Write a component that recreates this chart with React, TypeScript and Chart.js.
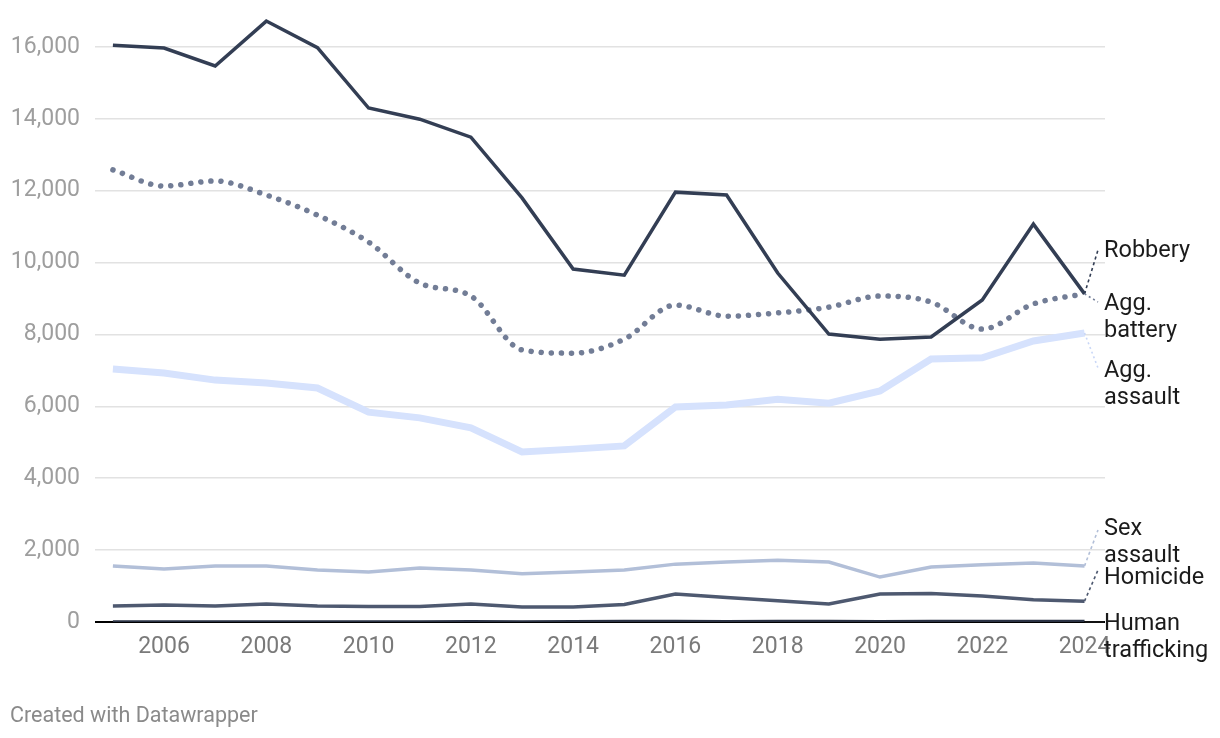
import React, { useEffect, useRef } from "react";
import { Chart, registerables } from "chart.js";

Chart.register(...registerables);

const years = [2005, 2006, 2007, 2008, 2009, 2010, 2011, 2012, 2013, 2014, 2015, 2016, 2017, 2018, 2019, 2020, 2021, 2022, 2023, 2024];
const robbery = [16050, 15970, 15470, 16720, 15980, 14300, 13990, 13490, 11800, 9820, 9650, 11960, 11880, 9710, 8010, 7870, 7930, 8960, 11070, 9130];
const aggBattery = [12580, 12130, 12270, 11880, 11320, 10570, 9430, 9070, 7570, 7480, 7870, 8820, 8510, 8600, 8760, 9070, 8900, 8150, 8850, 9130];
const aggAssault = [7040, 6930, 6730, 6650, 6510, 5840, 5680, 5400, 4730, 4810, 4900, 5980, 6040, 6200, 6090, 6430, 7320, 7350, 7820, 8040];
const sexAssault = [1560, 1475, 1560, 1560, 1450, 1390, 1500, 1450, 1340, 1390, 1450, 1610, 1670, 1720, 1670, 1250, 1530, 1590, 1640, 1560];
const homicide = [445, 470, 445, 500, 445, 430, 430, 500, 420, 415, 490, 780, 680, 590, 500, 780, 790, 720, 620, 580];
const humanTrafficking = [5, 8, 6, 7, 10, 8, 9, 12, 10, 14, 18, 20, 16, 22, 18, 15, 20, 24, 18, 20];

const yTicks = [0, 2000, 4000, 6000, 8000, 10000, 12000, 14000, 16000];
const xTicks = [2006, 2008, 2010, 2012, 2014, 2016, 2018, 2020, 2022, 2024];

const labelRobbery = ["Robbery"];
const labelBattery = ["Agg.", "battery"];
const labelAssault = ["Agg.", "assault"];
const labelSex = ["Sex", "assault"];
const labelHomicide = ["Homicide"];
const labelTrafficking = ["Human", "trafficking"];

const FONT = "Roboto, 'Noto Sans', sans-serif";

const toPts = (vals: number[]) => vals.map((v, i) => ({ x: years[i], y: v }));

export default function App() {
  const ref = useRef<HTMLCanvasElement | null>(null);

  useEffect(() => {
    const canvas = ref.current;
    if (!canvas) return;

    const annotations = [
      { values: robbery, lines: labelRobbery, color: "#333e54", dash: [3, 3], end: [1098, 250], text: [1104, 257], solid: false },
      { values: aggBattery, lines: labelBattery, color: "#727d96", dash: [2, 3], end: [1098, 302], text: [1104, 310], solid: false },
      { values: aggAssault, lines: labelAssault, color: "#c9d7f7", dash: [2, 3], end: [1098, 368], text: [1104, 377], solid: false },
      { values: sexAssault, lines: labelSex, color: "#b2bfd8", dash: [3, 3], end: [1098, 530], text: [1104, 535], solid: false },
      { values: homicide, lines: labelHomicide, color: "#4e5970", dash: [3, 3], end: [1098, 570], text: [1104, 584], solid: false },
      { values: humanTrafficking, lines: labelTrafficking, color: "#111111", dash: [], end: [1104, 622], text: [1104, 630], solid: true },
    ];

    const labelPlugin = {
      id: "endLabels",
      afterDatasetsDraw(chart: any) {
        const { ctx, scales } = chart;
        const xs = scales.x;
        const ys = scales.y;
        ctx.save();
        annotations.forEach((a) => {
          const last = a.values.length - 1;
          const px = xs.getPixelForValue(years[last]);
          const py = ys.getPixelForValue(a.values[last]);
          ctx.beginPath();
          ctx.setLineDash(a.dash);
          ctx.strokeStyle = a.color;
          ctx.lineWidth = a.solid ? 2 : 1.6;
          ctx.moveTo(px, a.solid ? a.end[1] : py);
          ctx.lineTo(a.end[0], a.end[1]);
          ctx.stroke();
          ctx.setLineDash([]);
          ctx.fillStyle = "#1b1b1b";
          ctx.font = `23.5px ${FONT}`;
          ctx.textAlign = "left";
          ctx.textBaseline = "alphabetic";
          a.lines.forEach((ln, i) => {
            ctx.fillText(ln, a.text[0], a.text[1] + i * 27);
          });
        });
        ctx.fillStyle = "#8a8a8a";
        ctx.font = `21.5px ${FONT}`;
        ctx.textAlign = "left";
        ctx.fillText("Created with Datawrapper", 10, 722);
        ctx.restore();
      },
    };

    const chart = new Chart(canvas, {
      type: "line",
      data: {
        datasets: [
          {
            label: "Robbery",
            data: toPts(robbery),
            borderColor: "#333e54",
            borderWidth: 3.5,
            pointRadius: 0,
            borderJoinStyle: "miter",
          },
          {
            label: "Agg. battery",
            data: toPts(aggBattery),
            borderColor: "#727d96",
            borderWidth: 5.5,
            borderDash: [0.1, 10],
            borderCapStyle: "round",
            cubicInterpolationMode: "monotone",
            pointRadius: 0,
          },
          {
            label: "Human trafficking",
            data: toPts(humanTrafficking),
            borderColor: "#2a3244",
            borderWidth: 3,
            pointRadius: 0,
          },
          {
            label: "Homicide",
            data: toPts(homicide),
            borderColor: "#4e5970",
            borderWidth: 3.5,
            pointRadius: 0,
          },
          {
            label: "Sex assault",
            data: toPts(sexAssault),
            borderColor: "#b2bfd8",
            borderWidth: 3.5,
            pointRadius: 0,
          },
          {
            label: "Agg. assault",
            data: toPts(aggAssault),
            borderColor: "#d6e2fd",
            borderWidth: 7,
            pointRadius: 0,
          },
        ],
      },
      options: {
        animation: false,
        responsive: false,
        maintainAspectRatio: false,
        layout: { padding: { top: 11, right: 115, bottom: 66, left: 0 } },
        plugins: {
          legend: { display: false },
          tooltip: { enabled: false },
        },
        scales: {
          x: {
            type: "linear",
            min: 2004.65,
            max: 2024.4,
            afterBuildTicks: (scale: any) => {
              scale.ticks = xTicks.map((v) => ({ value: v }));
            },
            afterFit: (scale: any) => {
              scale.height = 50;
              scale.paddingLeft = 0;
              scale.paddingRight = 0;
            },
            grid: { display: false, drawTicks: false },
            border: { display: false },
            ticks: {
              color: "#7a7a7a",
              font: { family: FONT, size: 23 },
              padding: 11,
              maxRotation: 0,
              autoSkip: false,
              callback: (v: any) => String(v),
            },
          },
          y: {
            type: "linear",
            min: 0,
            max: 17000,
            afterBuildTicks: (scale: any) => {
              scale.ticks = yTicks.map((v) => ({ value: v }));
            },
            afterFit: (scale: any) => {
              scale.width = 95;
              scale.paddingTop = 0;
              scale.paddingBottom = 0;
            },
            grid: {
              drawTicks: false,
              color: (c: any) => (c.tick && c.tick.value === 0 ? "#000000" : "#e2e2e2"),
              lineWidth: (c: any) => (c.tick && c.tick.value === 0 ? 2 : 1.5),
            },
            border: { display: false },
            ticks: {
              color: "#9e9e9e",
              font: { family: FONT, size: 23 },
              padding: 15,
              callback: (v: any) => Number(v).toLocaleString("en-US"),
            },
          },
        },
      },
      plugins: [labelPlugin],
    } as any);

    return () => chart.destroy();
  }, []);

  return (
    <div style={{ position: "absolute", left: 0, top: 0, width: 1220, height: 738, background: "#fff" }}>
      <canvas ref={ref} width={1220} height={738} style={{ width: 1220, height: 738, display: "block" }} />
    </div>
  );
}
